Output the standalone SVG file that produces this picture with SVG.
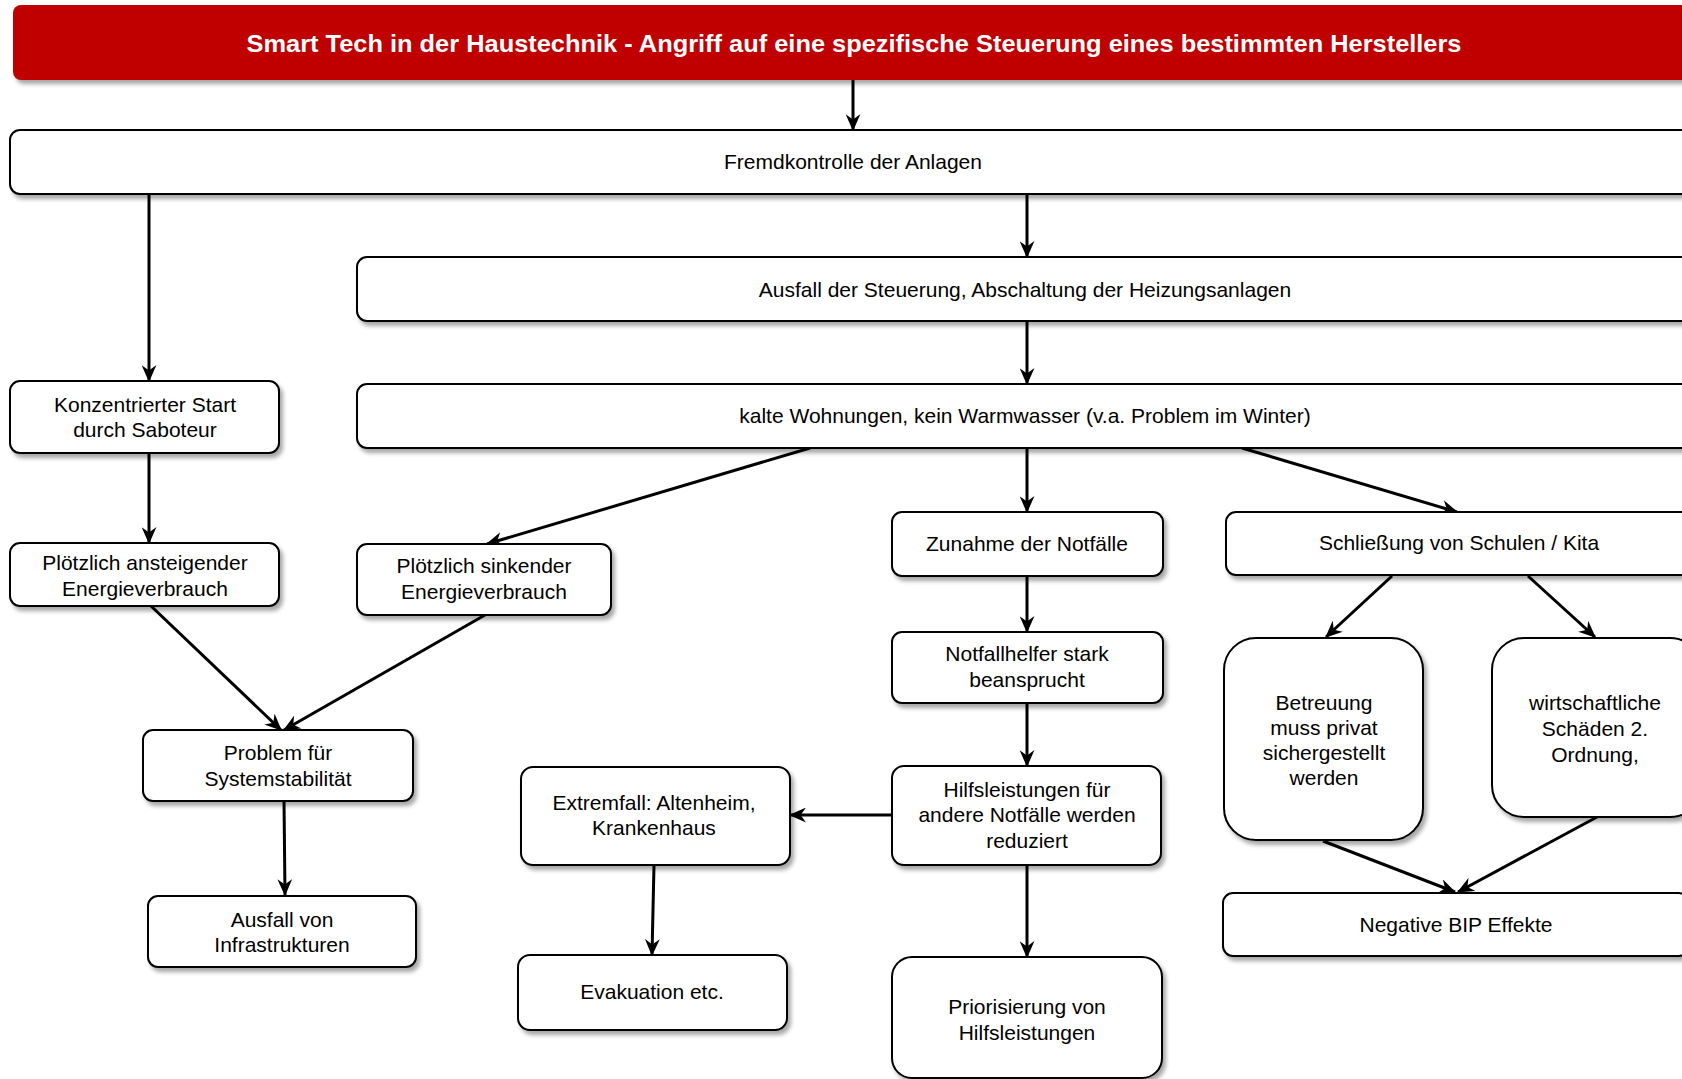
<svg xmlns="http://www.w3.org/2000/svg" width="1682" height="1079" viewBox="0 0 1682 1079">
<style>
.box{fill:#fff;stroke:#000;stroke-width:2;filter:url(#sh)}
.t{font-family:"Liberation Sans",Arial,sans-serif;font-size:21px;fill:#000;text-anchor:middle}
.title{font-family:"Liberation Sans",Arial,sans-serif;font-size:24px;font-weight:bold;fill:#fff;text-anchor:middle}
.c{fill:none;stroke:#000;stroke-width:3;marker-end:url(#ah)}
</style>
<defs>
<filter id="sh" x="-10%" y="-20%" width="120%" height="150%">
<feDropShadow dx="3" dy="4" stdDeviation="2" flood-color="#000" flood-opacity="0.35"/>
</filter>
<marker id="ah" markerUnits="userSpaceOnUse" viewBox="0 0 16 14" markerWidth="17" markerHeight="15" refX="15" refY="7" orient="auto">
<path d="M0,0 L16,7 L0,14 L5,7 z" fill="#000"/>
</marker>
</defs>
<rect width="1682" height="1079" fill="#fff"/>

<g id="title">
<rect x="13" y="5" width="1700" height="75" rx="8" fill="#C00000" filter="url(#sh)"/>
<text class="title" x="854" y="52" textLength="1215" lengthAdjust="spacingAndGlyphs">Smart Tech in der Haustechnik - Angriff auf eine spezifische Steuerung eines bestimmten  Herstellers</text>
</g>

<g id="connectors">
<line class="c" x1="853" y1="80" x2="853" y2="130"/>
<line class="c" x1="1027" y1="194" x2="1027" y2="257"/>
<line class="c" x1="1027" y1="321" x2="1027" y2="384"/>
<line class="c" x1="149" y1="194" x2="149" y2="381"/>
<line class="c" x1="149" y1="453" x2="149" y2="543"/>
<line class="c" x1="810" y1="448" x2="487" y2="544"/>
<line class="c" x1="151" y1="606" x2="281" y2="730"/>
<line class="c" x1="485" y1="615" x2="284" y2="730"/>
<line class="c" x1="284" y1="801" x2="285" y2="895"/>
<line class="c" x1="1027" y1="448" x2="1027" y2="512"/>
<line class="c" x1="1242" y1="448" x2="1457" y2="512"/>
<line class="c" x1="1027" y1="576" x2="1027" y2="632"/>
<line class="c" x1="1027" y1="703" x2="1027" y2="766"/>
<line class="c" x1="892" y1="815" x2="790" y2="815"/>
<line class="c" x1="654" y1="865" x2="652" y2="955"/>
<line class="c" x1="1027" y1="865" x2="1027" y2="957"/>
<line class="c" x1="1392" y1="576" x2="1326" y2="637"/>
<line class="c" x1="1528" y1="576" x2="1595" y2="637"/>
<line class="c" x1="1323" y1="841" x2="1455" y2="892"/>
<line class="c" x1="1597" y1="817" x2="1458" y2="892"/>
</g>

<g id="n-fremd">
<rect class="box" x="10" y="130" width="1686" height="64" rx="10"/>
<text class="t" x="853" y="169">Fremdkontrolle der Anlagen</text>
</g>
<g id="n-ausfall">
<rect class="box" x="357" y="257" width="1336" height="64" rx="10"/>
<text class="t" x="1025" y="297">Ausfall der Steuerung, Abschaltung der Heizungsanlagen</text>
</g>
<g id="n-kalte">
<rect class="box" x="357" y="384" width="1336" height="64" rx="10"/>
<text class="t" x="1025" y="423">kalte Wohnungen, kein Warmwasser (v.a. Problem im Winter)</text>
</g>
<g id="n-konz">
<rect class="box" x="10" y="381" width="269" height="72" rx="10"/>
<text class="t" x="145" y="412">Konzentrierter Start</text>
<text class="t" x="145" y="437">durch Saboteur</text>
</g>
<g id="n-steig">
<rect class="box" x="10" y="543" width="269" height="63" rx="10"/>
<text class="t" x="145" y="570">Plötzlich ansteigender</text>
<text class="t" x="145" y="596">Energieverbrauch</text>
</g>
<g id="n-sink">
<rect class="box" x="357" y="544" width="254" height="71" rx="10"/>
<text class="t" x="484" y="573">Plötzlich sinkender</text>
<text class="t" x="484" y="599">Energieverbrauch</text>
</g>
<g id="n-problem">
<rect class="box" x="143" y="730" width="270" height="71" rx="10"/>
<text class="t" x="278" y="760">Problem für</text>
<text class="t" x="278" y="786">Systemstabilität</text>
</g>
<g id="n-infra">
<rect class="box" x="148" y="896" width="268" height="71" rx="10"/>
<text class="t" x="282" y="927">Ausfall von</text>
<text class="t" x="282" y="952">Infrastrukturen</text>
</g>
<g id="n-zunahme">
<rect class="box" x="892" y="512" width="271" height="64" rx="10"/>
<text class="t" x="1027" y="551">Zunahme der Notfälle</text>
</g>
<g id="n-schliess">
<rect class="box" x="1226" y="512" width="466" height="63" rx="10"/>
<text class="t" x="1459" y="550">Schließung von Schulen / Kita</text>
</g>
<g id="n-helfer">
<rect class="box" x="892" y="632" width="271" height="71" rx="10"/>
<text class="t" x="1027" y="661">Notfallhelfer stark</text>
<text class="t" x="1027" y="687">beansprucht</text>
</g>
<g id="n-hilfs">
<rect class="box" x="892" y="766" width="269" height="99" rx="12"/>
<text class="t" x="1027" y="797">Hilfsleistungen für</text>
<text class="t" x="1027" y="822">andere Notfälle werden</text>
<text class="t" x="1027" y="848">reduziert</text>
</g>
<g id="n-extrem">
<rect class="box" x="521" y="767" width="269" height="98" rx="12"/>
<text class="t" x="654" y="810">Extremfall: Altenheim,</text>
<text class="t" x="654" y="835">Krankenhaus</text>
</g>
<g id="n-evak">
<rect class="box" x="518" y="955" width="269" height="75" rx="12"/>
<text class="t" x="652" y="999">Evakuation etc.</text>
</g>
<g id="n-prior">
<rect class="box" x="892" y="957" width="270" height="121" rx="20"/>
<text class="t" x="1027" y="1014">Priorisierung von</text>
<text class="t" x="1027" y="1040">Hilfsleistungen</text>
</g>
<g id="n-betreuung">
<rect class="box" x="1224" y="638" width="199" height="202" rx="32"/>
<text class="t" x="1324" y="710">Betreuung</text>
<text class="t" x="1324" y="735">muss privat</text>
<text class="t" x="1324" y="760">sichergestellt</text>
<text class="t" x="1324" y="785">werden</text>
</g>
<g id="n-wirtschaft">
<rect class="box" x="1492" y="638" width="210" height="179" rx="32"/>
<text class="t" x="1595" y="710">wirtschaftliche</text>
<text class="t" x="1595" y="736">Schäden 2.</text>
<text class="t" x="1595" y="762">Ordnung,</text>
</g>
<g id="n-bip">
<rect class="box" x="1223" y="893" width="466" height="63" rx="10"/>
<text class="t" x="1456" y="932">Negative BIP Effekte</text>
</g>
</svg>
